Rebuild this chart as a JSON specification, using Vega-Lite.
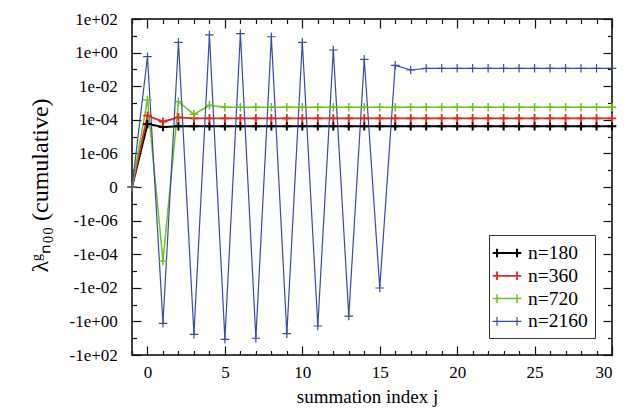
{
  "$schema": "https://vega.github.io/schema/vega-lite/v6.json",
  "width": 480,
  "height": 336,
  "autosize": {"type": "none"},
  "padding": {"left": 132, "top": 19, "right": 17, "bottom": 56},
  "config": {
    "view": {"stroke": "black", "strokeWidth": 1.5}
  },
  "data": {"values": [
    {"j":-1,"s":"n=180","v":0},{"j":0,"s":"n=180","v":5.6e-5},{"j":1,"s":"n=180","v":3.7e-5},{"j":2,"s":"n=180","v":4.1e-5},{"j":3,"s":"n=180","v":4.1e-5},{"j":4,"s":"n=180","v":4.1e-5},{"j":5,"s":"n=180","v":4.1e-5},{"j":6,"s":"n=180","v":4.1e-5},{"j":7,"s":"n=180","v":4.1e-5},{"j":8,"s":"n=180","v":4.1e-5},{"j":9,"s":"n=180","v":4.1e-5},{"j":10,"s":"n=180","v":4.1e-5},{"j":11,"s":"n=180","v":4.1e-5},{"j":12,"s":"n=180","v":4.1e-5},{"j":13,"s":"n=180","v":4.1e-5},{"j":14,"s":"n=180","v":4.1e-5},{"j":15,"s":"n=180","v":4.1e-5},{"j":16,"s":"n=180","v":4.1e-5},{"j":17,"s":"n=180","v":4.1e-5},{"j":18,"s":"n=180","v":4.1e-5},{"j":19,"s":"n=180","v":4.1e-5},{"j":20,"s":"n=180","v":4.1e-5},{"j":21,"s":"n=180","v":4.1e-5},{"j":22,"s":"n=180","v":4.1e-5},{"j":23,"s":"n=180","v":4.1e-5},{"j":24,"s":"n=180","v":4.1e-5},{"j":25,"s":"n=180","v":4.1e-5},{"j":26,"s":"n=180","v":4.1e-5},{"j":27,"s":"n=180","v":4.1e-5},{"j":28,"s":"n=180","v":4.1e-5},{"j":29,"s":"n=180","v":4.1e-5},{"j":30,"s":"n=180","v":4.1e-5},
    {"j":-1,"s":"n=360","v":0},{"j":0,"s":"n=360","v":1.75e-4},{"j":1,"s":"n=360","v":7.7e-5},{"j":2,"s":"n=360","v":1.41e-4},{"j":3,"s":"n=360","v":1.23e-4},{"j":4,"s":"n=360","v":1.23e-4},{"j":5,"s":"n=360","v":1.23e-4},{"j":6,"s":"n=360","v":1.23e-4},{"j":7,"s":"n=360","v":1.23e-4},{"j":8,"s":"n=360","v":1.23e-4},{"j":9,"s":"n=360","v":1.23e-4},{"j":10,"s":"n=360","v":1.23e-4},{"j":11,"s":"n=360","v":1.23e-4},{"j":12,"s":"n=360","v":1.23e-4},{"j":13,"s":"n=360","v":1.23e-4},{"j":14,"s":"n=360","v":1.23e-4},{"j":15,"s":"n=360","v":1.23e-4},{"j":16,"s":"n=360","v":1.23e-4},{"j":17,"s":"n=360","v":1.23e-4},{"j":18,"s":"n=360","v":1.23e-4},{"j":19,"s":"n=360","v":1.23e-4},{"j":20,"s":"n=360","v":1.23e-4},{"j":21,"s":"n=360","v":1.23e-4},{"j":22,"s":"n=360","v":1.23e-4},{"j":23,"s":"n=360","v":1.23e-4},{"j":24,"s":"n=360","v":1.23e-4},{"j":25,"s":"n=360","v":1.23e-4},{"j":26,"s":"n=360","v":1.23e-4},{"j":27,"s":"n=360","v":1.23e-4},{"j":28,"s":"n=360","v":1.23e-4},{"j":29,"s":"n=360","v":1.23e-4},{"j":30,"s":"n=360","v":1.23e-4},
    {"j":-1,"s":"n=720","v":0},{"j":0,"s":"n=720","v":1.51e-3},{"j":1,"s":"n=720","v":-2.54e-4},{"j":2,"s":"n=720","v":1.19e-3},{"j":3,"s":"n=720","v":2.12e-4},{"j":4,"s":"n=720","v":7.3e-4},{"j":5,"s":"n=720","v":5.55e-4},{"j":6,"s":"n=720","v":5.55e-4},{"j":7,"s":"n=720","v":5.55e-4},{"j":8,"s":"n=720","v":5.55e-4},{"j":9,"s":"n=720","v":5.55e-4},{"j":10,"s":"n=720","v":5.55e-4},{"j":11,"s":"n=720","v":5.55e-4},{"j":12,"s":"n=720","v":5.55e-4},{"j":13,"s":"n=720","v":5.55e-4},{"j":14,"s":"n=720","v":5.55e-4},{"j":15,"s":"n=720","v":5.55e-4},{"j":16,"s":"n=720","v":5.55e-4},{"j":17,"s":"n=720","v":5.55e-4},{"j":18,"s":"n=720","v":5.55e-4},{"j":19,"s":"n=720","v":5.55e-4},{"j":20,"s":"n=720","v":5.55e-4},{"j":21,"s":"n=720","v":5.55e-4},{"j":22,"s":"n=720","v":5.55e-4},{"j":23,"s":"n=720","v":5.55e-4},{"j":24,"s":"n=720","v":5.55e-4},{"j":25,"s":"n=720","v":5.55e-4},{"j":26,"s":"n=720","v":5.55e-4},{"j":27,"s":"n=720","v":5.55e-4},{"j":28,"s":"n=720","v":5.55e-4},{"j":29,"s":"n=720","v":5.55e-4},{"j":30,"s":"n=720","v":5.55e-4},
    {"j":-1,"s":"n=2160","v":0},{"j":0,"s":"n=2160","v":0.57},{"j":1,"s":"n=2160","v":-1.3},{"j":2,"s":"n=2160","v":4.1},{"j":3,"s":"n=2160","v":-5.86},{"j":4,"s":"n=2160","v":11.2},{"j":5,"s":"n=2160","v":-11.6},{"j":6,"s":"n=2160","v":13.3},{"j":7,"s":"n=2160","v":-10.1},{"j":8,"s":"n=2160","v":8.8},{"j":9,"s":"n=2160","v":-5.4},{"j":10,"s":"n=2160","v":4.1},{"j":11,"s":"n=2160","v":-1.88},{"j":12,"s":"n=2160","v":1.43},{"j":13,"s":"n=2160","v":-0.48},{"j":14,"s":"n=2160","v":0.4},{"j":15,"s":"n=2160","v":-0.0103},{"j":16,"s":"n=2160","v":0.175},{"j":17,"s":"n=2160","v":0.092},{"j":18,"s":"n=2160","v":0.116},{"j":19,"s":"n=2160","v":0.116},{"j":20,"s":"n=2160","v":0.116},{"j":21,"s":"n=2160","v":0.116},{"j":22,"s":"n=2160","v":0.116},{"j":23,"s":"n=2160","v":0.116},{"j":24,"s":"n=2160","v":0.116},{"j":25,"s":"n=2160","v":0.116},{"j":26,"s":"n=2160","v":0.116},{"j":27,"s":"n=2160","v":0.116},{"j":28,"s":"n=2160","v":0.116},{"j":29,"s":"n=2160","v":0.116},{"j":30,"s":"n=2160","v":0.116}
  ]},
  "layer": [
    {
      "mark": {"type": "line", "point": {"shape": "M-1,0H1M0,-1V1", "size": 74, "filled": false, "strokeWidth": 1.8}},
      "encoding": {
        "x": {"field": "j", "type": "quantitative", "scale": {"domain": [-1, 30], "nice": false, "zero": false},
          "axis": {"orient": "bottom", "domain": false, "grid": false, "tickColor": "#111", "tickWidth": 1.2,
            "values": [-1,0,1,2,3,4,5,6,7,8,9,10,11,12,13,14,15,16,17,18,19,20,21,22,23,24,25,26,27,28,29,30],
            "labelExpr": "datum.value % 5 == 0 ? datum.label : ''",
            "tickSize": {"condition": {"test": "datum.value % 5 == 0", "value": -9}, "value": -4.5},
            "labelPadding": 18.6, "labelFont": "serif", "labelFontSize": 17, "labelColor": "black", "labelBaseline": "top",
            "title": "summation index j", "titleFont": "serif", "titleFontWeight": "normal", "titleColor": "black", "titleFontSize": 19, "titleBaseline": "alphabetic", "titleAlign": "center", "titleX": 235, "titleY": 47.7}},
        "y": {"field": "v", "type": "quantitative", "scale": {"type": "symlog", "constant": 1e-8, "domain": [-100, 100], "nice": false, "zero": false},
          "axis": {"orient": "left", "domain": false, "grid": false, "tickColor": "#111", "tickWidth": 1.2,
            "values": [-100,-10,-1,-0.1,-0.01,-0.001,-0.0001,-0.00001,-0.000001,-0.0000001,0,0.0000001,0.000001,0.00001,0.0001,0.001,0.01,0.1,1,10,100],
            "labelExpr": "datum.value == 0 ? '0' : (abs(round(log(abs(datum.value))/LN10)) % 2 == 1 ? '' : (datum.value < 0 ? '-' : '') + '1e' + (round(log(abs(datum.value))/LN10) < 0 ? '-' : '+') + (abs(round(log(abs(datum.value))/LN10)) < 10 ? '0' : '') + abs(round(log(abs(datum.value))/LN10)))",
            "tickSize": {"condition": {"test": "datum.value != 0 && abs(round(log(abs(datum.value))/LN10)) % 2 == 1", "value": -4.5}, "value": -9},
            "labelPadding": 23.7, "labelFont": "serif", "labelFontSize": 17, "labelColor": "black", "labelBaseline": "middle", "labelAlign": "right",
            "title": "\u03bb\u1d4d\u2099\u2080\u2080 (cumulative)", "titleFont": "serif", "titleFontWeight": "normal", "titleColor": "black", "titleFontSize": 24, "titleAngle": 270, "titleAlign": "center", "titleBaseline": "alphabetic", "titleX": -85, "titleY": 166}},
        "color": {"field": "s", "type": "nominal",
          "scale": {"domain": ["n=180", "n=360", "n=720", "n=2160"], "range": ["#000000", "#e4261e", "#6cc21c", "#3b48a8"]},
          "legend": {"orient": "none", "legendX": 357, "legendY": 216, "title": null,
            "symbolType": "M-1.43,0H1.43M-1,-0.43V0.43M1,-0.43V0.43", "symbolSize": 400, "symbolStrokeWidth": 1.6, "symbolFillColor": "transparent",
            "labelFont": "serif", "labelFontSize": 19.5, "labelColor": "black", "labelOffset": 10, "padding": 7, "rowPadding": 1.8,
            "strokeColor": "#333", "fillColor": "white"}},
        "strokeWidth": {"field": "s", "type": "ordinal", "scale": {"type": "ordinal", "domain": ["n=180", "n=360", "n=720", "n=2160"], "range": [2, 1.8, 1.5, 1.2]}, "legend": null}
      }
    },
    {
      "mark": {"type": "point", "opacity": 0},
      "encoding": {
        "x": {"field": "j", "type": "quantitative",
          "axis": {"orient": "top", "domain": false, "grid": false, "tickColor": "#111", "tickWidth": 1.2,
            "values": [-1,0,1,2,3,4,5,6,7,8,9,10,11,12,13,14,15,16,17,18,19,20,21,22,23,24,25,26,27,28,29,30], "labels": false, "title": null,
            "tickSize": {"condition": {"test": "datum.value % 5 == 0", "value": -9}, "value": -4.5}}},
        "y": {"field": "v", "type": "quantitative",
          "axis": {"orient": "right", "domain": false, "grid": false, "tickColor": "#111", "tickWidth": 1.2,
            "values": [-100,-10,-1,-0.1,-0.01,-0.001,-0.0001,-0.00001,-0.000001,-0.0000001,0,0.0000001,0.000001,0.00001,0.0001,0.001,0.01,0.1,1,10,100], "labels": false, "title": null,
            "tickSize": {"condition": {"test": "datum.value != 0 && abs(round(log(abs(datum.value))/LN10)) % 2 == 1", "value": -4.5}, "value": -9}}}
      }
    }
  ],
  "resolve": {"axis": {"x": "independent", "y": "independent"}}
}
